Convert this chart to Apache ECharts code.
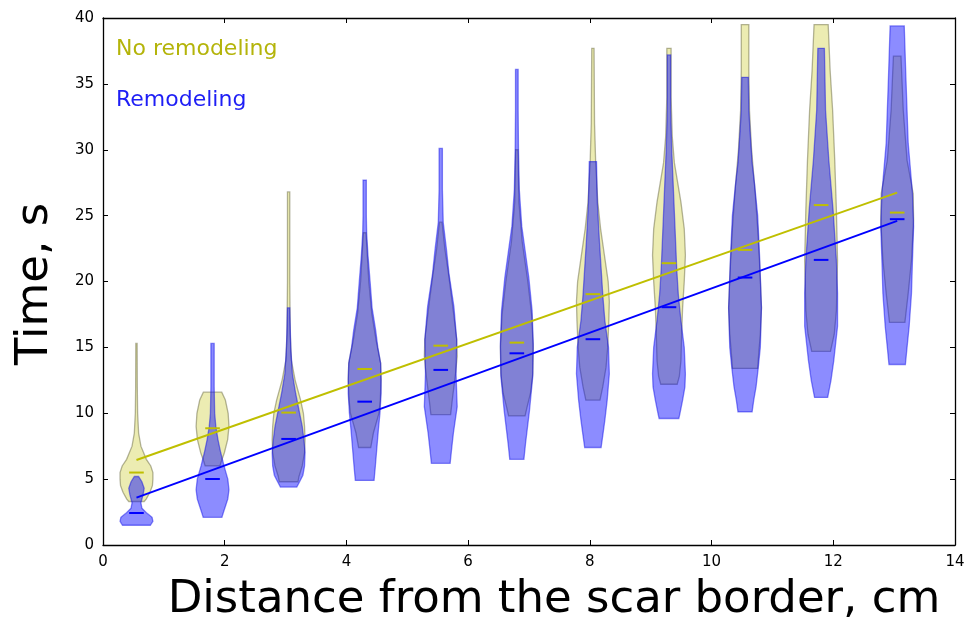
<!DOCTYPE html>
<html>
<head>
<meta charset="utf-8">
<script src="https://cdn.jsdelivr.net/npm/echarts@6/dist/echarts.min.js"></script>
<style>
html,body{margin:0;padding:0;background:#fff;}
#chart{width:977px;height:620px;}
</style>
</head>
<body>
<div id="chart"></div>
<script>
// Distances (violin positions, cm)
const positions = [0.55, 1.8, 3.05, 4.3, 5.55, 6.8, 8.05, 9.3, 10.55, 11.8, 13.05];

// Violin outlines: [time (s), relative density width (0..1)]
const noRemodelingShapes = [
  [[3.3,.47],[3.5,.6],[4,.82],[4.5,.97],[5,1],[5.5,1],[6,.87],[6.5,.6],[7.5,.27],[8.5,.13],[10,.07],[12,.05],[15.3,.04]],
  [[6,.45],[6.3,.52],[7,.72],[8,.92],[9,1],[10,.95],[11,.78],[11.6,.56]],
  [[4.8,.57],[5.2,.63],[6,.83],[7,.97],[8,1],[9,.97],[10,.9],[11,.73],[12.5,.4],[14,.17],[16,.1],[20,.07],[26.8,.07]],
  [[7.4,.37],[8.5,.53],[10,.87],[11,.95],[12.6,1],[13.8,.97],[15.5,.7],[17.6,.43],[20,.25],[23.7,.08]],
  [[9.9,.6],[11,.7],[13,.9],[14.3,1],[15.6,.97],[18.1,.73],[20.6,.47],[22.5,.25],[24.5,.08]],
  [[9.8,.5],[10.5,.63],[11.5,.83],[13,.97],[15,1],[17.5,.9],[20,.67],[23,.33],[26,.13],[30,.07]],
  [[11,.43],[12,.6],[13.5,.8],[15,.9],[17,.97],[18.5,1],[20,.93],[22,.7],[24,.47],[26,.3],[29,.17],[32,.1],[37.7,.07]],
  [[12.2,.5],[12.8,.63],[14,.73],[16,.77],[18,.83],[20,.93],[22,1],[24,.93],[26,.73],[27.5,.53],[29,.33],[31,.2],[34,.13],[37.7,.13]],
  [[13.4,.77],[14.5,.83],[16,.93],[18,1],[21,.9],[24,.77],[27,.6],[30,.4],[33,.27],[36,.23],[39.5,.23]],
  [[14.7,.57],[16,.8],[17.8,.93],[21.6,1],[25.4,.93],[29.2,.83],[33,.7],[36,.55],[39.5,.43]],
  [[16.9,.47],[19.1,.67],[21.6,.87],[24.7,1],[26.7,.97],[29.2,.6],[33,.37],[37.1,.23]]
];
const remodelingShapes = [
  [[1.5,.85],[1.8,1],[2.1,.95],[2.4,.65],[2.8,.33],[3.2,.27],[3.8,.4],[4.3,.47],[4.8,.33],[5.2,.13]],
  [[2.1,.57],[2.5,.67],[3,.8],[3.5,.93],[4.2,1],[5,.93],[6,.7],[7,.5],[8,.33],[9,.2],[10,.13],[12,.1],[15.3,.1]],
  [[4.4,.5],[4.8,.67],[5.3,.87],[6,.97],[7,1],[8,.93],[9,.83],[10,.67],[11.5,.43],[13,.23],[15,.13],[18,.07]],
  [[4.9,.57],[6,.65],[7.5,.75],[8.7,.83],[10,.93],[11.5,1],[12.5,1],[13.8,.97],[15,.8],[16.3,.67],[18,.45],[20,.33],[22,.2],[23.7,.12],[25,.1],[27.7,.1]],
  [[6.2,.57],[7.5,.68],[8.5,.77],[10.5,1],[13,.93],[15.6,.97],[18.1,.8],[20.6,.5],[22.4,.35],[24.5,.15],[27,.1],[30.1,.1]],
  [[6.5,.43],[7.7,.53],[10.2,.77],[12.8,.97],[15.3,1],[17.8,.93],[20.3,.73],[24.2,.3],[27,.15],[30.1,.1],[33,.08],[36.1,.08]],
  [[7.4,.5],[8.3,.6],[9.5,.73],[11,.87],[13,1],[15,.95],[17,.73],[19,.6],[21,.5],[23,.4],[26,.27],[29.1,.22]],
  [[9.6,.6],[10,.67],[11,.83],[12,.97],[13,1],[15,.93],[17,.73],[19,.57],[21,.47],[24,.37],[27,.27],[30,.17],[33,.1],[37.2,.1]],
  [[10.1,.43],[11,.53],[12,.67],[13.4,.8],[15,.93],[18,1],[21.5,.9],[25,.77],[27.5,.57],[29,.43],[31.5,.3],[33,.23],[35.5,.2]],
  [[11.2,.4],[12.5,.6],[14,.77],[16.6,1],[19.1,1],[21.6,.93],[25.4,.73],[29.2,.47],[33,.27],[37.7,.2]],
  [[13.7,.5],[15,.6],[16.6,.73],[19.1,.87],[21.6,.93],[24.2,1],[26.7,.93],[30.5,.67],[35.5,.53],[39.4,.43]]
];

// Medians (s)
const noRemodelingMedians = [5.5, 8.86, 10.05, 13.36, 15.13, 15.36, 19.04, 21.39, 22.4, 25.8, 25.23];
const remodelingMedians = [2.43, 5.01, 8.05, 10.88, 13.29, 14.55, 15.62, 18.05, 20.3, 21.64, 24.73];

// Regression line end points [distance, time]
const noRemodelingFit = [[0.55, 6.45], [13.05, 26.75]];
const remodelingFit = [[0.55, 3.6], [13.05, 24.6]];

const YELLOW = 'rgb(191,191,0)';
const BLUE = 'rgb(0,0,255)';
const HALF = 0.27;   // half of violin max width (x units)
const MED_HALF = 0.12;
const FONT = 'DejaVu Sans';

function violinSeries(shapes, fill, stroke) {
  return {
    type: 'custom',
    xAxisIndex: 0, yAxisIndex: 0,
    data: positions.map((p, i) => [p, i]),
    encode: { x: 0, y: -1 },
    silent: true,
    renderItem: function (params, api) {
      const pos = api.value(0);
      const shape = shapes[api.value(1)];
      const pts = [];
      shape.forEach(d => pts.push(api.coord([pos + d[1] * HALF, d[0]])));
      for (let k = shape.length - 1; k >= 0; k--) {
        pts.push(api.coord([pos - shape[k][1] * HALF, shape[k][0]]));
      }
      return {
        type: 'polygon',
        shape: { points: pts },
        style: { fill: fill, stroke: stroke, lineWidth: 1.3 }
      };
    }
  };
}

function medianSeries(meds, color) {
  return {
    type: 'custom',
    xAxisIndex: 0, yAxisIndex: 0,
    data: positions.map((p, i) => [p, meds[i]]),
    encode: { x: 0, y: 1 },
    silent: true,
    z: 5,
    renderItem: function (params, api) {
      const pos = api.value(0), m = api.value(1);
      const a = api.coord([pos - MED_HALF, m]);
      const b = api.coord([pos + MED_HALF, m]);
      return {
        type: 'line',
        shape: { x1: a[0], y1: a[1], x2: b[0], y2: b[1] },
        style: { stroke: color, lineWidth: 2 }
      };
    }
  };
}

function fitSeries(pts, color) {
  return {
    type: 'line',
    xAxisIndex: 0, yAxisIndex: 0,
    data: pts,
    symbol: 'none',
    silent: true,
    z: 6,
    lineStyle: { color: color, width: 2 }
  };
}

const axisCommon = {
  axisLine: { show: true, onZero: false, lineStyle: { color: '#000', width: 1.3 } },
  axisTick: { show: true, inside: true, length: 5, lineStyle: { color: '#000', width: 1 } },
  splitLine: { show: false }
};

const option = {
  animation: false,
  backgroundColor: '#fff',
  grid: { left: 103, right: 22, top: 18, bottom: 75, containLabel: false },
  xAxis: [
    Object.assign({ type: 'value', min: 0, max: 14, interval: 2, position: 'bottom',
      axisLabel: { color: '#000', fontSize: 15, fontFamily: FONT, margin: 10 } }, axisCommon),
    Object.assign({ type: 'value', min: 0, max: 14, interval: 2, position: 'top',
      axisLabel: { show: false } }, axisCommon)
  ],
  yAxis: [
    Object.assign({ type: 'value', min: 0, max: 40, interval: 5, position: 'left',
      axisLabel: { color: '#000', fontSize: 15, fontFamily: FONT, margin: 9 } }, axisCommon),
    Object.assign({ type: 'value', min: 0, max: 40, interval: 5, position: 'right',
      axisLabel: { show: false } }, axisCommon)
  ],
  graphic: [
    { type: 'text', x: 35, y: 284, rotation: Math.PI / 2,
      style: { text: 'Time, s', font: '45px "DejaVu Sans"', fill: '#000', align: 'center', verticalAlign: 'middle' } },
    { type: 'text', x: 554, y: 600,
      style: { text: 'Distance from the scar border, cm', font: '45px "DejaVu Sans"', fill: '#000', align: 'center', verticalAlign: 'middle' } },
    { type: 'text', x: 116, y: 49,
      style: { text: 'No remodeling', font: '22px "DejaVu Sans"', fill: 'rgb(180,180,10)', align: 'left', verticalAlign: 'middle' } },
    { type: 'text', x: 116, y: 100,
      style: { text: 'Remodeling', font: '22px "DejaVu Sans"', fill: 'rgb(30,30,245)', align: 'left', verticalAlign: 'middle' } }
  ],
  series: [
    violinSeries(noRemodelingShapes, 'rgba(191,191,0,0.3)', 'rgba(90,90,50,0.45)'),
    violinSeries(remodelingShapes, 'rgba(0,0,255,0.45)', 'rgba(0,0,230,0.45)'),
    medianSeries(noRemodelingMedians, YELLOW),
    medianSeries(remodelingMedians, BLUE),
    fitSeries(noRemodelingFit, YELLOW),
    fitSeries(remodelingFit, BLUE)
  ]
};

const chart = echarts.init(document.getElementById('chart'), null, { renderer: 'canvas' });
chart.setOption(option);
</script>
</body>
</html>
